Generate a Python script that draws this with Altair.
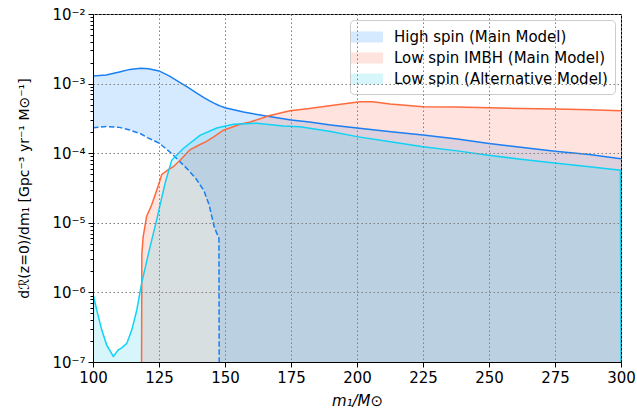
import altair as alt
import pandas as pd

# ---------------- data ----------------
FLOOR = 1e-7

blue_x = [100, 105, 110, 114, 118, 121, 125, 129, 133, 136, 139, 142, 144, 146, 147.7, 147.8,
          150, 157, 165, 175, 182, 190, 200, 212, 225, 238, 250, 262, 275, 288, 300]
blue_hi = [1.29e-3, 1.33e-3, 1.47e-3, 1.6e-3, 1.66e-3, 1.63e-3, 1.52e-3, 1.28e-3, 1.03e-3, 8.8e-4,
           7.4e-4, 6.3e-4, 5.7e-4, 5.2e-4, 4.85e-4, 4.83e-4,
           4.5e-4, 3.9e-4, 3.45e-4, 3.0e-4, 2.8e-4, 2.55e-4, 2.3e-4, 2.05e-4, 1.82e-4, 1.6e-4,
           1.38e-4, 1.22e-4, 1.07e-4, 9.6e-5, 8.3e-5]
blue_lo = [2.33e-4, 2.42e-4, 2.35e-4, 2.15e-4, 1.9e-4, 1.65e-4, 1.4e-4, 1.05e-4, 7.5e-5, 5.8e-5,
           4.3e-5, 2.9e-5, 1.8e-5, 8.5e-6, 6e-6, FLOOR,
           FLOOR, FLOOR, FLOOR, FLOOR, FLOOR, FLOOR, FLOOR, FLOOR, FLOOR, FLOOR,
           FLOOR, FLOOR, FLOOR, FLOOR, FLOOR]

orange_x = [118.4, 118.5, 119, 120.3, 122.2, 124.1, 125.4, 126, 128, 130.4, 133, 136.7, 140, 143,
            146, 149.4, 155.7, 159.5, 167, 174.6, 182, 191, 201, 206, 212.5, 225, 237, 250, 262,
            275.6, 288, 300]
orange_y = [FLOOR, 3.6e-6, 6.3e-6, 1.23e-5, 1.8e-5, 2.9e-5, 4.1e-5, 4.9e-5, 5.6e-5, 6.4e-5, 7.9e-5,
            1.12e-4, 1.3e-4, 1.48e-4, 1.75e-4, 2.14e-4, 2.6e-4, 2.8e-4, 3.47e-4, 4.07e-4, 4.4e-4,
            4.9e-4, 5.5e-4, 5.5e-4, 5.1e-4, 4.65e-4, 4.6e-4, 4.5e-4, 4.4e-4, 4.3e-4, 4.2e-4, 4.08e-4]

cyan_x = [100, 100.2, 101.4, 103.3, 105.2, 107.7, 109.6, 110.9, 112.8, 114.7, 116.6, 118.4, 121,
          124.1, 127.3, 129.8, 134.2, 140.5, 146.9, 153.2, 162, 172, 178.4, 190, 200, 212, 225,
          238, 250.4, 262, 275.6, 288, 299.8, 300]
cyan_y = [FLOOR, 9e-7, 5.6e-7, 2.9e-7, 1.75e-7, 1.2e-7, 1.5e-7, 1.6e-7, 1.85e-7, 2.9e-7, 5.6e-7,
          1.35e-6, 3.6e-6, 1.1e-5, 3.7e-5, 7.9e-5, 1.17e-4, 1.8e-4, 2.3e-4, 2.6e-4, 2.7e-4, 2.46e-4,
          2.4e-4, 2.05e-4, 1.73e-4, 1.47e-4, 1.24e-4, 1.08e-4, 9.3e-5, 8.2e-5, 7.2e-5, 6.4e-5,
          5.7e-5, FLOOR]

names = ["High spin (Main Model)", "Low spin IMBH (Main Model)", "Low spin (Alternative Model)"]
x_ticks = [100, 125, 150, 175, 200, 225, 250, 275, 300]
decades = [-7, -6, -5, -4, -3, -2]
sup = {-7: "⁻⁷", -6: "⁻⁶", -5: "⁻⁵", -4: "⁻⁴", -3: "⁻³", -2: "⁻²"}

# ---------------- frames ----------------
df_blue = pd.DataFrame({"m": blue_x, "hi": blue_hi, "lo": blue_lo, "series": names[0]})
df_dash = df_blue[df_blue["m"] <= 147.8]
df_orange = pd.DataFrame({"m": orange_x, "v": orange_y, "series": names[1]})
df_cyan = pd.DataFrame({"m": cyan_x, "v": cyan_y, "series": names[2]})

FONT = "DejaVu Sans"
FILL_OP = 0.18
color_scale = alt.Scale(domain=names, range=["#1e8cff", "#ff6347", "#21cdee"])

legend = alt.Legend(
    title=None, orient="top-right", offset=6,
    fillColor="rgba(255,255,255,0.8)", strokeColor="#cccccc", cornerRadius=4, padding=7,
    labelFont=FONT, labelFontSize=15, labelColor="black", labelLimit=400,
    symbolType="M-1.6,-0.55H1.6V0.55H-1.6Z", symbolSize=400, symbolStrokeWidth=0,
    symbolOpacity=FILL_OP, rowPadding=3, labelOffset=17,
)

x_axis = alt.Axis(
    values=x_ticks, format="d", labelFont=FONT, labelFontSize=15, labelColor="black",
    labelFlush=False, tickColor="black", tickSize=5, domainColor="black", labelPadding=3,
    grid=True, gridDash=[1.5, 2.5], gridColor="#808080", gridWidth=1,
    title="m₁/M⊙", titleFont=FONT, titleFontSize=15, titleFontStyle="italic",
    titleFontWeight="normal", titleColor="black", titlePadding=8, zindex=1,
)

y_vals = [mm * 10.0 ** e for e in range(-7, -2) for mm in range(1, 10)] + [1e-2]
major_test = "abs(log(datum.value)/LN10 - round(log(datum.value)/LN10)) < 0.01"
lab = "''"
for d in decades:
    lab = f"round(log(datum.value)/LN10) == {d} ? '10{sup[d]}' : ({lab})"
label_expr = f"{major_test} ? ({lab}) : ''"

y_axis = alt.Axis(
    values=y_vals, labelExpr=label_expr, labelOverlap=False, labelFlush=False,
    labelFont=FONT, labelFontSize=15,
    labelColor="black", tickColor="black", domainColor="black", labelPadding=3,
    tickSize={"condition": {"test": major_test, "value": 5}, "value": 3},
    grid=True, gridDash=[1.5, 2.5], gridColor="#808080", gridWidth=1,
    gridOpacity={"condition": {"test": major_test, "value": 1}, "value": 0},
    title="dℛ(z=0)/dm₁  [Gpc⁻³ yr⁻¹ M⊙⁻¹]", titleFont=FONT, titleFontSize=14,
    titleFontWeight="normal", titleColor="black", titlePadding=20, zindex=1,
)

x_scale = alt.Scale(domain=[100, 300], nice=False, zero=False)
y_scale = alt.Scale(type="log", domain=[FLOOR, 1e-2], nice=False)

X = alt.X("m:Q", scale=x_scale, axis=x_axis)
C = alt.Color("series:N", scale=color_scale, legend=legend)

blue_area = alt.Chart(df_blue).mark_area(clip=True, fillOpacity=FILL_OP).encode(
    x=X, y=alt.Y("hi:Q", scale=y_scale, axis=y_axis), y2="lo:Q", color=C)
orange_area = alt.Chart(df_orange).mark_area(clip=True, fillOpacity=FILL_OP).encode(
    x=X, y=alt.Y("v:Q", scale=y_scale, axis=y_axis), y2=alt.datum(FLOOR), color=C)
cyan_area = alt.Chart(df_cyan).mark_area(clip=True, fillOpacity=FILL_OP).encode(
    x=X, y=alt.Y("v:Q", scale=y_scale, axis=y_axis), y2=alt.datum(FLOOR), color=C)

blue_line = alt.Chart(df_blue).mark_line(clip=True, color="#1a7ff2", strokeWidth=1.5).encode(
    x=X, y=alt.Y("hi:Q", scale=y_scale, axis=y_axis))
blue_dash = alt.Chart(df_dash).mark_line(clip=True, color="#1a7ff2", strokeWidth=1.5,
                                          strokeDash=[5.5, 2.5]).encode(
    x=X, y=alt.Y("lo:Q", scale=y_scale, axis=y_axis))
orange_line = alt.Chart(df_orange).mark_line(clip=True, color="#ff6a3d", strokeWidth=1.5).encode(
    x=X, y=alt.Y("v:Q", scale=y_scale, axis=y_axis))
cyan_line = alt.Chart(df_cyan).mark_line(clip=True, color="#0fd2f5", strokeWidth=1.5).encode(
    x=X, y=alt.Y("v:Q", scale=y_scale, axis=y_axis))

chart = alt.layer(
    blue_area, orange_area, cyan_area, blue_line, blue_dash, orange_line, cyan_line
).properties(
    width=528, height=348,
    autosize=alt.AutoSizeParams(type="none"),
    padding={"left": 93, "top": 14, "right": 16, "bottom": 56},
    background="white",
).configure_view(stroke="black", strokeWidth=1)

chart.save("out.html", embed_options={"renderer": "svg", "actions": False})
